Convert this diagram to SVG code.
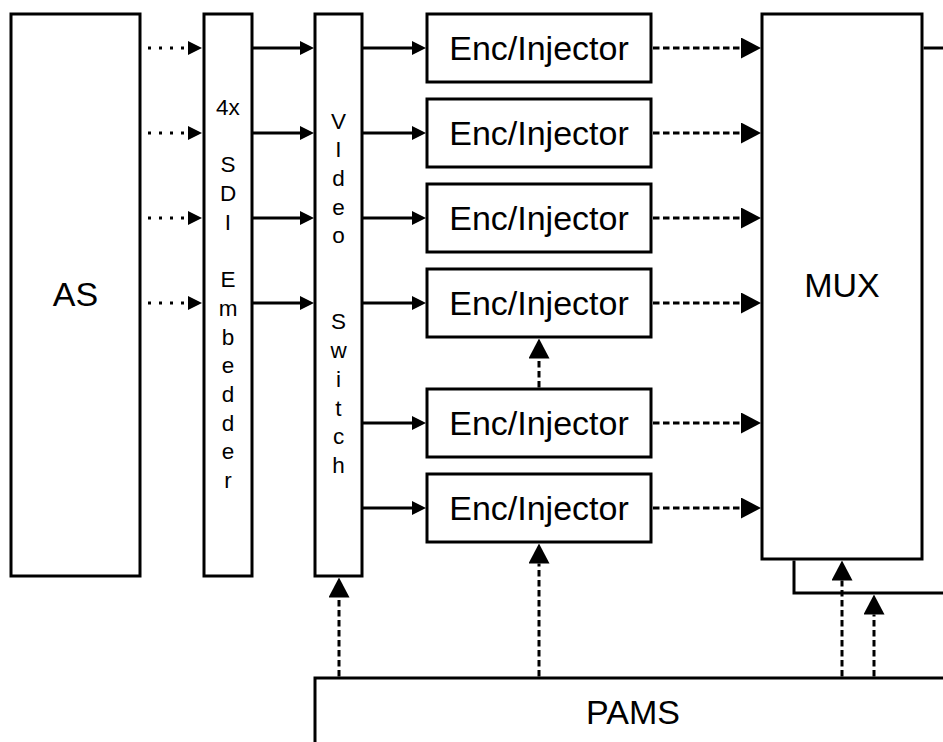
<svg xmlns="http://www.w3.org/2000/svg" width="943" height="742" viewBox="0 0 943 742">
<style>
.box{fill:#fff;stroke:#000;stroke-width:3}
.lbl{font-family:"Liberation Sans",Arial,sans-serif;font-size:34px;fill:#000;text-anchor:middle}
.vt{font-family:"Liberation Sans",Arial,sans-serif;font-size:22.5px;fill:#000;text-anchor:middle}
.solid{fill:none;stroke:#000;stroke-width:3;marker-end:url(#sm)}
.dot{fill:none;stroke:#000;stroke-width:3;stroke-dasharray:3 8;marker-end:url(#sm)}
.dash{fill:none;stroke:#000;stroke-width:3;stroke-dasharray:6.5 3.5;marker-end:url(#bg)}
.ln{fill:none;stroke:#000;stroke-width:3}
</style>
<defs>
<marker id="sm" viewBox="0 0 14 14" refX="0" refY="7" markerWidth="14" markerHeight="14" markerUnits="userSpaceOnUse" orient="auto"><path d="M0,0 L14,7 L0,14 z" fill="#000"/></marker>
<marker id="bg" viewBox="0 0 20 21" refX="0" refY="10.5" markerWidth="20" markerHeight="21" markerUnits="userSpaceOnUse" orient="auto"><path d="M0,0 L20,10.5 L0,21 z" fill="#000"/></marker>
</defs>
<rect width="943" height="742" fill="#fff"/>
<g id="as"><rect class="box" x="11" y="14" width="129" height="562"/><text class="lbl" x="75.5" y="306">AS</text></g>
<g id="sdi"><rect class="box" x="204" y="14" width="48" height="562"/>
<text class="vt" x="228" y="115">4x</text>
<text class="vt" x="228" y="172.4">S</text>
<text class="vt" x="228" y="201.1">D</text>
<text class="vt" x="228" y="229.8">I</text>
<text class="vt" x="228" y="287.2">E</text>
<text class="vt" x="228" y="315.9">m</text>
<text class="vt" x="228" y="344.6">b</text>
<text class="vt" x="228" y="373.3">e</text>
<text class="vt" x="228" y="402">d</text>
<text class="vt" x="228" y="430.7">d</text>
<text class="vt" x="228" y="459.4">e</text>
<text class="vt" x="228" y="488.1">r</text>
</g>
<g id="switch"><rect class="box" x="315" y="14" width="47" height="562"/>
<text class="vt" x="338.5" y="128.5">V</text>
<text class="vt" x="338.5" y="157.2">I</text>
<text class="vt" x="338.5" y="185.9">d</text>
<text class="vt" x="338.5" y="214.6">e</text>
<text class="vt" x="338.5" y="243.3">o</text>
<text class="vt" x="338.5" y="329.4">S</text>
<text class="vt" x="338.5" y="358.1">w</text>
<text class="vt" x="338.5" y="386.8">i</text>
<text class="vt" x="338.5" y="415.5">t</text>
<text class="vt" x="338.5" y="444.2">c</text>
<text class="vt" x="338.5" y="472.9">h</text>
</g>
<g id="enc1"><rect class="box" x="427" y="14" width="224" height="68"/><text class="lbl" x="539" y="60">Enc/Injector</text></g>
<g id="enc2"><rect class="box" x="427" y="99" width="224" height="68"/><text class="lbl" x="539" y="145">Enc/Injector</text></g>
<g id="enc3"><rect class="box" x="427" y="184" width="224" height="68"/><text class="lbl" x="539" y="230">Enc/Injector</text></g>
<g id="enc4"><rect class="box" x="427" y="269" width="224" height="68"/><text class="lbl" x="539" y="315">Enc/Injector</text></g>
<g id="enc5"><rect class="box" x="427" y="389" width="224" height="68"/><text class="lbl" x="539" y="435">Enc/Injector</text></g>
<g id="enc6"><rect class="box" x="427" y="474" width="224" height="68"/><text class="lbl" x="539" y="520">Enc/Injector</text></g>
<g id="mux"><rect class="box" x="762" y="14" width="160" height="545"/><text class="lbl" x="842" y="297">MUX</text></g>
<g id="pams"><rect class="box" x="315" y="678" width="660" height="100"/><text class="lbl" x="633" y="724">PAMS</text></g>
<g id="connectors">
<path class="dot" d="M148,48 H188"/>
<path class="dot" d="M148,133 H188"/>
<path class="dot" d="M148,218 H188"/>
<path class="dot" d="M148,303 H188"/>
<path class="solid" d="M253,48 H300"/>
<path class="solid" d="M253,133 H300"/>
<path class="solid" d="M253,218 H300"/>
<path class="solid" d="M253,303 H300"/>
<path class="solid" d="M363,48 H412"/>
<path class="solid" d="M363,133 H412"/>
<path class="solid" d="M363,218 H412"/>
<path class="solid" d="M363,303 H412"/>
<path class="solid" d="M363,423 H412"/>
<path class="solid" d="M363,508 H412"/>
<path class="dash" d="M653,48 H741"/>
<path class="dash" d="M653,133 H741"/>
<path class="dash" d="M653,218 H741"/>
<path class="dash" d="M653,303 H741"/>
<path class="dash" d="M653,423 H741"/>
<path class="dash" d="M653,508 H741"/>
<path class="dash" d="M539,387.5 V358.5"/>
<path class="dash" d="M339,676.5 V597.5"/>
<path class="dash" d="M539,676.5 V563.5"/>
<path class="dash" d="M842,676.5 V580.5"/>
<path class="dash" d="M874,676.5 V614.5"/>
<path class="ln" d="M923.5,48 H945"/>
<path class="ln" d="M794,560.5 V593 H945"/>
</g>
</svg>
